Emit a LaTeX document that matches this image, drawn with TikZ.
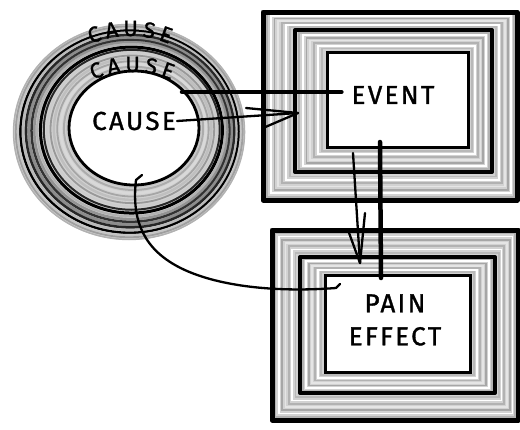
\documentclass[tikz,border=0pt]{standalone}
\usepackage{fontspec}
\setmainfont{Fira Sans}[LetterSpace=9, FakeBold=1.2]
\usetikzlibrary{arrows.meta,decorations.text,calc,shapes.geometric}
\tikzset{
  lbl/.style={font=\fontsize{26}{33}\selectfont, inner sep=1pt, align=center},
  innerbox/.style={draw, fill=white, line width=3pt, inner sep=0pt},
  conn/.style={line width=2.3pt, line cap=round, line join=round},
  thickconn/.style={line width=4.5pt, line cap=round},
  curvetext/.style={decorate, decoration={text along path, text align=fit to path,
    text={|\fontsize{22}{22}\selectfont|CAUSE}}},
}
\begin{document}
\begin{tikzpicture}[x=1pt,y=-1pt]
\useasboundingbox (0,0) rectangle (520,429);
% ---- rings of causes
\fill[gray!35] (129,132) ellipse [x radius=116, y radius=108];
\foreach \t/\c/\w in {0.03/gray!45/2.5, 0.09/gray!65/2, 0.15/gray!30/2.5, 0.21/gray!70/1.8,
  0.27/gray!50/2.5, 0.33/gray!80/1.8, 0.39/gray!40/2.2, 0.45/black!85/2, 0.51/black/3,
  0.57/gray!60/2.2, 0.62/gray!85/2.5, 0.67/black!80/2.5, 0.72/gray!90/3, 0.77/black!85/2.5,
  0.82/gray!55/2.2, 0.87/black/2.5, 0.91/gray!45/2.2, 0.95/gray!75/1.8, 0.99/gray!60/1.5}{
  \draw[\c, line width=\w pt] ($(134,128)!\t!(129,132)$) ellipse [x radius={65+51*\t}, y radius={57+51*\t}];
}
\node[ellipse, draw, fill=white, line width=2.8pt, minimum width=130, minimum height=114, inner sep=0pt] (core) at (134,128) {};
\node[lbl] (causetxt) at (134,121) {CAUSE};
\path[curvetext] (130,136) ++(247:100) arc[start angle=247, end angle=293, radius=100];
\path[curvetext] (132,172) ++(247:100) arc[start angle=247, end angle=293, radius=100];
% ---- boxes
\foreach \ox/\oy/\OX/\OY/\mx/\my/\MX/\MY/\ix/\iy/\IX/\IY in
  {263/12/517/200/295/30/492/172/327/52/468/147,
   272/230/518/420/300/257/495/393/325/275/470/372}{
  \fill[gray!35] (\ox,\oy) rectangle (\OX,\OY);
  \foreach \t/\c in {0.12/gray!60, 0.24/white, 0.36/gray!70, 0.48/gray!20, 0.6/gray!60, 0.72/white, 0.84/gray!55}{
    \draw[\c, line width=1.8pt] ($(\ox,\oy)!\t!(\mx,\my)$) rectangle ($(\OX,\OY)!\t!(\MX,\MY)$);
    \draw[\c, line width=1.8pt] ($(\mx,\my)!\t!(\ix,\iy)$) rectangle ($(\MX,\MY)!\t!(\IX,\IY)$);
  }
  \draw[line width=5pt, line join=round] (\ox,\oy) rectangle (\OX,\OY);
  \draw[line width=4pt, line join=round] (\mx,\my) rectangle (\MX,\MY);
}
\node[innerbox, minimum width=141, minimum height=95] (ev) at (397.5,99.5) {};
\node[lbl] (evtxt) at (393,95) {EVENT};
\node[innerbox, minimum width=145, minimum height=97] (pain) at (397.5,323.5) {};
\node[lbl] (paintxt) at (395,320) {PAIN\\EFFECT};
% ---- connectors
\coordinate (a1) at (182,92);
\draw[thickconn, shorten >=9pt] (a1) -- (a1 -| evtxt.west);
\coordinate (tip) at (298,113);
\coordinate (r1) at (246,108);
\coordinate (b1) at (263,128);
\draw[conn] (causetxt.east) -- (tip);
\draw[conn] (r1) -- (tip);
\draw[conn] (b1) -- (tip);
\coordinate (v0) at (353,153);
\coordinate (vtip) at (360,263);
\coordinate (v1) at (365,213);
\coordinate (v2) at (348,230);
\draw[conn] (v0) -- (vtip);
\draw[conn] (v1) -- (vtip);
\draw[conn] (v2) -- (vtip);
\coordinate (t0) at (380,142);
\coordinate (t1) at (381,278);
\draw[thickconn] (t0) -- (t1);
\coordinate (c0) at (142,175);
\coordinate (c1) at (336,288);
\coordinate (c2) at (340,284);
\draw[conn] (c0) -- (136,180) .. controls (132,215) and (140,245) .. (175,265)
  .. controls (210,285) and (270,293) .. (c1) -- (c2);
\end{tikzpicture}
\end{document}
